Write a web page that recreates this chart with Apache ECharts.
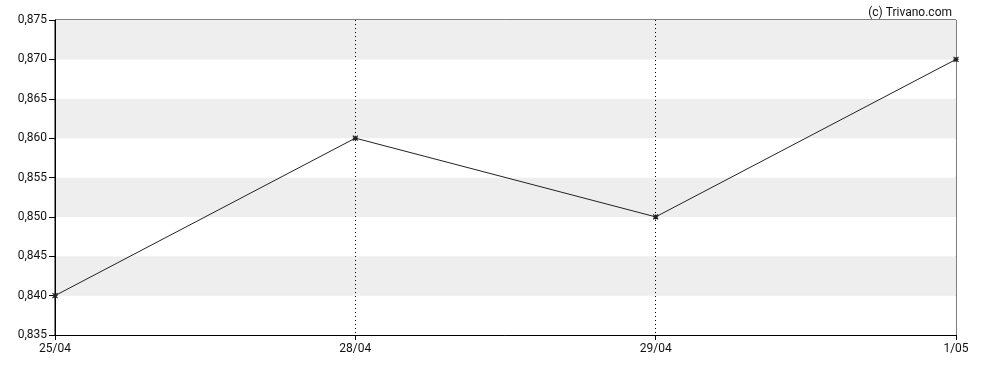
<!DOCTYPE html>
<html>
<head>
<meta charset="utf-8">
<script src="https://cdn.jsdelivr.net/npm/echarts@6/dist/echarts.min.js"></script>
<style>html,body{margin:0;padding:0;background:#fff;}#c{width:988px;height:370px;}</style>
</head>
<body>
<div id="c"></div>
<script>
const categories = ['25/04', '28/04', '29/04', '1/05'];
const prices = [0.840, 0.860, 0.850, 0.870];
const yMin = 0.835, yMax = 0.875, yStep = 0.005;

const chart = echarts.init(document.getElementById('c'), null, {renderer: 'canvas'});
chart.setOption({
  animation: false,
  backgroundColor: '#ffffff',
  textStyle: {fontFamily: 'Roboto'},
  title: {
    text: '(c) Trivano.com', right: 31, top: 2,
    textStyle: {fontSize: 12, fontWeight: 'normal', color: '#111', fontFamily: 'Roboto'}
  },
  grid: {left: 55, right: 32, top: 20, bottom: 35, show: true, borderColor: '#000', borderWidth: 1, backgroundColor: 'transparent'},
  xAxis: {
    type: 'category', data: categories, boundaryGap: false,
    axisLine: {lineStyle: {color: '#000', width: 1}},
    axisTick: {show: true, length: 5, lineStyle: {color: '#000'}},
    axisLabel: {color: '#111', fontSize: 12, margin: 8, fontFamily: 'Roboto'},
    splitLine: {show: true, interval: (i) => i === 1 || i === 2, lineStyle: {color: '#000', type: [1, 3], width: 1}}
  },
  yAxis: {
    type: 'value', min: yMin, max: yMax, interval: yStep,
    axisLine: {show: true, lineStyle: {color: '#000', width: 1}},
    axisTick: {show: true, length: 6, lineStyle: {color: '#000'}},
    axisLabel: {color: '#111', fontSize: 12, margin: 8, fontFamily: 'Roboto',
      formatter: v => v.toFixed(3).replace('.', ',')},
    splitLine: {show: false},
    splitArea: {show: true, areaStyle: {color: ['#ffffff', '#eeeeee']}}
  },
  series: [{
    type: 'line', data: prices,
    symbol: 'path://M0,0L10,10M10,0L0,10M5,0L5,10M0,5L10,5',
    symbolSize: 5,
    itemStyle: {color: '#222', borderColor: '#222', borderWidth: 1.2},
    lineStyle: {color: '#222', width: 1}
  }]
});
</script>
</body>
</html>
